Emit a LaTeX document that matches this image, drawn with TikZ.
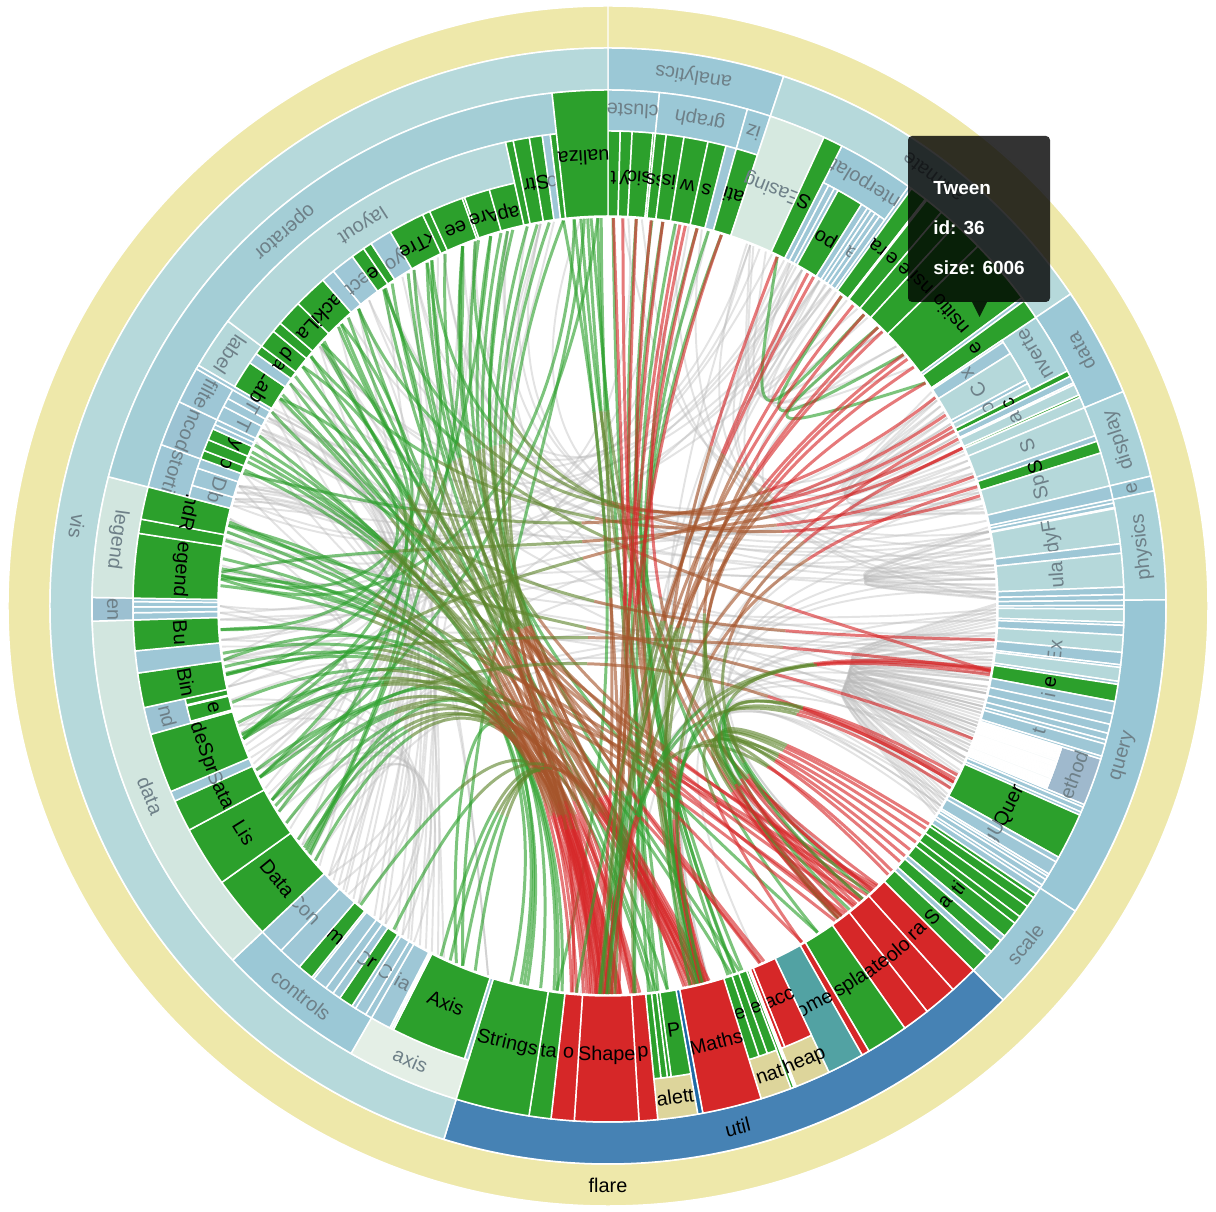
\documentclass[tikz,border=0pt]{standalone}
\usepackage{fontspec}
\setmainfont{Liberation Sans}
\usetikzlibrary{calc}
\definecolor{cflare}{HTML}{EEE8AA}
\definecolor{cpkg}{HTML}{9BC8D6}
\definecolor{cpkgb}{HTML}{A9D2D9}
\definecolor{cpkgt}{HTML}{B6D9DB}
\definecolor{cquery}{HTML}{98C6D5}
\definecolor{cmethods}{HTML}{9FB9CD}
\definecolor{cutil}{HTML}{4682B4}
\definecolor{cbeige}{HTML}{DDD59B}
\definecolor{cpale}{HTML}{D2E6DF}
\definecolor{caxis}{HTML}{E4EFE6}
\definecolor{cevents}{HTML}{9CC0D1}
\definecolor{coperator}{HTML}{A4CED6}
\definecolor{csub}{HTML}{9CC3D3}
\definecolor{leafg}{HTML}{2CA02C}
\definecolor{leafr}{HTML}{D62728}
\definecolor{leafb}{HTML}{9EC7D6}
\definecolor{leaft}{HTML}{B5D8DA}
\definecolor{leafp}{HTML}{D6E9E0}
\definecolor{leafw}{HTML}{F3F8F8}
\definecolor{leafc}{HTML}{52A2A3}
\definecolor{leafd}{HTML}{1F6AA5}
\definecolor{txg}{HTML}{000000}
\definecolor{txr}{HTML}{000000}
\definecolor{txc}{HTML}{000000}
\definecolor{txd}{HTML}{000000}
\definecolor{txb}{HTML}{6E8088}
\definecolor{txt}{HTML}{6E8088}
\definecolor{txp}{HTML}{6E8088}
\definecolor{txw}{HTML}{6E8088}
\definecolor{eG}{HTML}{2CA02C}
\definecolor{eO}{HTML}{5E852B}
\definecolor{eB}{HTML}{A5542A}
\definecolor{eR}{HTML}{D62728}
\definecolor{egray}{HTML}{B8B8B8}

\begin{document}
\begin{tikzpicture}[x=0.02cm, y=0.02cm,
    seg/.style={draw=white, line width=0.85pt},
    sector/.style n args={4}{insert path={({90-#1}:#3) arc[start angle={90-#1}, end angle={90-#2}, radius=#3] -- ({90-#2}:#4) arc[start angle={90-#2}, end angle={90-#1}, radius=#4] -- cycle}},
    ringlabel/.style={font=\fontsize{11.3}{13}\selectfont, text=txb, inner sep=0pt},
    darklabel/.style={font=\fontsize{11.3}{13}\selectfont, text=black, inner sep=0pt},
    leaflabel/.style={font=\fontsize{11.3}{13}\selectfont, inner sep=0pt},
    faint/.style={draw=egray, line width=1.1pt, opacity=.4},
    bundle/.style={line width=1.7pt, opacity=.62},
    tipbox/.style={fill=black, opacity=.8},
    tiptext/.style={font=\bfseries\fontsize{10.8}{12}\selectfont, text=white, anchor=west, inner sep=0pt}]
\useasboundingbox (-608,-606) rectangle (608,606);

\foreach \ha/\ra/\hb/\rb/\pairs in {
  106/205/106/205/{90/96, 91/99, 92.5/103, 94/100, 95.5/105.5, 97/102, 98/112, 100/108, 101/114, 103/110, 104/116, 105/118, 106.5/120, 108/113, 109/117, 110/119, 111/121, 112/122, 114/120.5, 96/110.5, 93/109, 102/111.5, 107/115, 89.7/101, 91.5/106, 90.5/104, 92/98.5, 95/113.5, 97.5/107.5, 99/115.5, 100.5/119.5, 104.5/121.5, 105.5/109.5, 108.5/122.5, 113/117.5, 102.5/106},
  84/215/84/215/{78.3/84.5, 78.8/86, 79/87.5, 81/88.3, 82/85, 83/89, 80/86.8, 84/88.8},
  66/220/66/220/{56.5/62, 57.5/64, 59/66.5, 61/65, 68/74, 69/76, 70.5/75.5, 72/76.2, 58/70, 60/73},
  106/100/166/100/{91/166, 95/180, 103/137, 108/143, 112/165, 120/181, 122/139, 94/176, 105/184, 121/157},
  106/100/272/130/{92/250, 96/290, 101/312, 105/275, 109/330, 113/240, 121/302, 98/229, 118/262, 103/345, 90.5/280, 94.5/322, 111/268, 119.5/338, 97/236, 107.5/256},
  75/100/300/160/{80/312, 82/230, 85/345, 87/251, 70/275, 73/318, 75/356, 77.3/340, 58/258, 61/305, 64/235, 66/330, 79/322, 84/290, 88/262, 68/350, 86/300, 81.5/335, 71/285, 62/348},
  75/100/166/100/{79/137, 83/166, 86/180, 69/143, 72.5/165, 59/181, 65/167, 88/139},
  70/150/25/150/{81/21, 84/27, 88/33, 60/30, 63/45, 74/10, 86/5, 79/48, 89/14, 67/2},
  31/100/166/100/{21.5/166, 27.7/180, 28.5/143, 29/166.5, 33.1/181, 34.2/179, 35/137},
  31/100/300/160/{21.5/312, 28/335, 33/300, 35.2/250, 23/325, 30/288},
  37/220/37/220/{21.5/33, 22/45, 24/50, 28/38, 30/42, 34/48, 36/52},
  305/200/240/200/{211/330, 213/345, 215/300, 221/320, 224/290, 226/338, 198/316, 207/305, 209/352, 286/232, 288/245, 297/226, 299/212, 287/255, 300.5/205, 220/310, 217/298, 208/325, 225/350, 198/288, 210.5/340, 216/312, 223/302, 285.5/220, 296/240, 298.5/251, 206/295, 222.5/334},
  300/170/262/170/{286/262, 288/270, 297/248, 299/276, 287/281, 296.5/258, 305/268, 320/244, 328/279, 340/265, 350/241, 312/283},
  260/230/260/230/{228/246, 232/252, 238/258, 242/262, 245/265, 249/264, 269/280, 270/283},
  270/120/20/120/{269/15, 286/30, 297/8, 288/40, 299/25, 285/3, 265/12, 247/35},
  218/220/247/220/{210/240, 212/233, 215/238, 222/231, 224/252, 226/245, 216/262, 220/256}}{
  \foreach \a/\b in \pairs {
    \coordinate (ga) at ({90-\a}:388);
    \coordinate (gb) at ({90-\b}:388);
    \draw[faint] (ga) .. controls ({90-\ha}:\ra) and ({90-\hb}:\rb) .. (gb);
  }
}

\foreach \ha/\ra/\hb/\rb/\pairs in {
  312/190/262/190/{312.5/230.5, 316.6/250.7, 332.2/243.8, 338/230.2, 342.4/259.8, 308.1/238, 324.7/274.5, 302.3/266.5},
  250/160/350/200/{202/356.5, 243.8/358.5, 274/355},
  280/170/200/110/{274/193, 250/188, 313/192.5, 329/171.2, 338/147.3, 282/194.5, 231/187.5, 296/192, 203/190, 320/172.8, 345/160.2, 305/161.5, 240/173.5, 262/186.8},
  5/100/168/100/{0.74/171.2, 4.18/160.9, 8.13/172.6, 13.28/162, 17/173.2, 357.5/174, 353.4/187.6, 6.5/147.3, 10/159.8, 15/161},
  40/220/40/220/{44.1/54.9, 49.6/37, 41.3/25.85}}{
  \foreach \a/\b in \pairs {
    \coordinate (ga) at ({90-\a}:388);
    \coordinate (gb) at ({90-\b}:388);
    \draw[bundle, draw=eG] (ga) .. controls ({90-\ha}:\ra) and ({90-\hb}:\rb) .. (gb);
  }
}

\foreach \ha/\ra/\hb/\rb/\ka/\kb/\kc/\kd/\pairs in {
  286/180/202/112/eG/eO/eB/eR/{308.1/180.5, 312.5/178.2, 316.6/166.3, 324.7/182.7, 326.2/176.1, 332.2/164.9, 335.2/179.4, 338/167.6, 342.4/181.6, 345.8/165.4, 310.1/142.9, 316/139.3, 333/136.6, 340.5/157, 344/184.6, 302.3/181.1, 306.3/166.7, 290.5/180.8, 291.8/167.8, 293.4/178.6, 294.5/185.4, 348/179.8, 349.5/166.1, 351.3/182.1, 353.4/175.8, 303/136.2, 292.6/140.5, 318/150, 330/156.3},
  268/160/202/112/eG/eO/eB/eR/{273/179.2, 275.5/166, 277/181.4, 279.7/176.6, 282.5/183.1, 274.5/137.4, 281/142.4, 229/180.1, 231.5/167, 233/178.1, 236/165.6, 239/181.7, 243.8/168.3, 250/179.9, 252.5/183.6, 255.6/166.9, 259.8/180.6, 261/175.3, 266.5/178.7, 240/138.1, 250.5/144.2, 263/156.8},
  228/130/195/105/eG/eO/eB/eR/{202/181, 204/167.4, 205.5/176.3, 219.6/182.5, 213.5/168.7, 200/185.2},
  298/175/75/100/eG/eO/eB/eR/{310/70.5, 325/62.5, 340/73.5, 275/66, 250/60.5, 320/99.7, 290/57.5, 333/64.5},
  265/150/106/100/eG/eO/eB/eR/{260/99.5, 245/117, 300/95, 282/110},
  357/120/168/100/eG/eO/eB/eR/{355/178.4, 357/165.2, 358.5/139, 356/143.7, 359/181.9},
  9/100/168/100/eR/eR/eB/eO/{2.2/166.4, 4.18/180.9, 6.39/165.7, 8.13/179, 10.69/181.3, 13.28/167.2, 17/180, 11.5/143.1, 0.8/176.2},
  40/100/168/100/eR/eB/eO/eG/{25.85/165.9, 31/180.3, 37/166.5, 39.2/179.6, 41.3/137.8, 44.1/167.8, 49.6/181.2, 50.5/141.5, 54.9/166.8, 52/143.6, 45/176, 32/184.7},
  129/110/166/100/eR/eO/eO/eR/{124.2/137, 126.3/140.2, 128.9/143.5, 131.2/136, 133.8/139.5, 125/142, 130.1/150.1, 127.5/166.2, 133/180.5},
  106/100/166/100/eR/eO/eG/eR/{99.7/166.2, 99.3/180.4, 116.5/137.2, 117/165.6, 115.8/143, 118/179.5, 100.2/140.8},
  68/100/166/100/eR/eB/eO/eG/{72.1/166, 63.2/180.2, 66/139}}{
  \foreach \a/\b in \pairs {
    \coordinate (e0) at ({90-\a}:388);
    \coordinate (e1) at ({90-\ha}:\ra);
    \coordinate (e2) at ({90-\hb}:\rb);
    \coordinate (e3) at ({90-\b}:388);
    \coordinate (f0) at ($(e0)!.5!(e1)$);
    \coordinate (f1) at ($(e1)!.5!(e2)$);
    \coordinate (f2) at ($(e2)!.5!(e3)$);
    \coordinate (g0) at ($(f0)!.5!(f1)$);
    \coordinate (g1) at ($(f1)!.5!(f2)$);
    \coordinate (em) at ($(g0)!.5!(g1)$);
    \coordinate (h0) at ($(e0)!.5!(f0)$);
    \coordinate (h1) at ($(f0)!.5!(g0)$);
    \coordinate (h2) at ($(g0)!.5!(em)$);
    \coordinate (i0) at ($(h0)!.5!(h1)$);
    \coordinate (i1) at ($(h1)!.5!(h2)$);
    \coordinate (ea) at ($(i0)!.5!(i1)$);
    \coordinate (j0) at ($(em)!.5!(g1)$);
    \coordinate (j1) at ($(g1)!.5!(f2)$);
    \coordinate (j2) at ($(f2)!.5!(e3)$);
    \coordinate (k0) at ($(j0)!.5!(j1)$);
    \coordinate (k1) at ($(j1)!.5!(j2)$);
    \coordinate (eb) at ($(k0)!.5!(k1)$);
    \draw[bundle, draw=\ka] (e0) .. controls (h0) and (i0) .. (ea);
    \draw[bundle, draw=\kb] (ea) .. controls (i1) and (h2) .. (em);
    \draw[bundle, draw=\kc] (em) .. controls (j0) and (k0) .. (eb);
    \draw[bundle, draw=\kd] (eb) .. controls (k1) and (j2) .. (e3);
  }
}

\path[seg, fill=cflare, sector={0}{360}{558}{600}];
\path[seg, fill=cpkg, sector={0}{18.343}{516}{558}];
\path[seg, fill=cpkgt, sector={18.343}{56.004}{516}{558}];
\path[seg, fill=cpkg, sector={56.004}{67.406}{516}{558}];
\path[seg, fill=cpkgb, sector={67.406}{76.538}{516}{558}];
\path[seg, fill=cpkg, sector={76.538}{78.088}{516}{558}];
\path[seg, fill=cpkgb, sector={78.088}{89.358}{516}{558}];
\path[seg, fill=cquery, sector={89.358}{123.140}{516}{558}];
\path[seg, fill=cpkg, sector={123.140}{134.923}{516}{558}];
\path[seg, fill=cutil, sector={134.923}{197.107}{516}{558}];
\path[seg, fill=cpkgt, sector={197.107}{360}{516}{558}];

\path[seg, fill=cpkg, sector={0}{5.726}{475}{516}];
\path[seg, fill=cpkg, sector={5.726}{15.679}{475}{516}];
\path[seg, fill=cpkg, sector={15.679}{18.343}{475}{516}];
\path[seg, fill=cpkg, sector={26.947}{35.637}{475}{516}];
\path[seg, fill=cpkgb, sector={56.004}{62.912}{475}{516}];
\path[seg, fill=cmethods, sector={107.249}{112.643}{475}{516}];
\path[seg, fill=cbeige, sector={154.632}{158.618}{475}{516}];
\path[seg, fill=cbeige, sector={159.218}{162.737}{475}{516}];
\path[seg, fill=cbeige, sector={169.962}{174.460}{475}{516}];
\path[seg, fill=caxis, sector={197.107}{209.866}{475}{516}];
\path[seg, fill=cpkg, sector={209.866}{226.673}{475}{516}];
\path[seg, fill=cpale, sector={226.673}{268.310}{475}{516}];
\path[seg, fill=cevents, sector={268.310}{270.950}{475}{516}];
\path[seg, fill=cpale, sector={270.950}{284.506}{475}{516}];
\path[seg, fill=coperator, sector={284.506}{353.773}{475}{516}];

\path[seg, fill=csub, sector={254.296}{257.635}{433}{475}];
\path[seg, fill=leafb, sector={284.506}{289.859}{433}{475}];
\path[seg, fill=csub, sector={289.859}{295.468}{433}{475}];
\path[seg, fill=leafb, sector={295.468}{299.946}{433}{475}];
\path[seg, fill=leaft, sector={300.430}{306.853}{433}{475}];
\path[seg, fill=leaft, sector={306.853}{347.548}{433}{475}];

\gdef\leafang{0}
\foreach \sz/\ro/\lc/\lt [count=\i] in {
  3938/475/g/t, 3812/475/g/y, 6714/475/g/sic, 743/475/g/{}, 3534/475/g/ss, 5731/475/g/is, 7840/475/g/w, 5914/475/g/s, 3416/475/b/{}, 7074/475/g/ati,
  17010/516/p/Easing, 5842/516/g/S, 1983/475/b/{}, 2047/475/b/{}, 1375/475/b/{}, 8746/475/g/po, 2202/475/b/{}, 1382/475/b/{}, 1629/475/b/{}, 1675/475/b/a, 2042/475/b/{}, 1041/516/b/{}, 5176/516/g/ra, 449/516/b/{}, 5593/516/g/e, 5534/516/g/e, 9201/516/g/nsi, 19975/516/g/nsitio, 1116/516/b/{}, 6006/516/g/e,
  721/475/b/{}, 4294/475/b/x, 9800/475/t/C, 1314/475/b/{}, 2220/475/t/o, 1759/516/g/c, 2165/516/b/{}, 586/516/b/{}, 3331/516/t/a, 772/516/g/{}, 3322/516/t/{},
  8833/516/t/S, 1732/516/b/{}, 3623/516/g/S, 10066/516/t/Sp,
  4116/516/b/{},
  1082/516/b/{}, 1336/516/b/{}, 319/516/b/{}, 10498/516/t/dyF, 2822/516/b/{}, 9983/516/t/ula, 2213/516/b/{}, 1681/516/b/{},
  1616/516/b/{}, 1027/516/b/{}, 3891/516/t/{}, 891/516/b/{}, 2893/516/b/{}, 5103/516/t/{}, 3677/516/b/Ex, 781/516/b/{}, 4141/516/t/{}, 933/516/b/{}, 5130/516/g/e, 3617/516/b/i, 3240/516/b/{}, 2732/516/b/{}, 2039/516/b/{}, 1214/516/b/{}, 3748/516/b/t, 843/516/b/{},
  593/475/w/{}, 330/475/w/{}, 287/475/w/{}, 277/475/w/{}, 292/475/w/{}, 595/475/w/{}, 594/475/w/{}, 460/475/w/{}, 603/475/w/{}, 625/475/w/{}, 748/475/w/{}, 461/475/w/{}, 597/475/w/{}, 619/475/w/{}, 283/475/w/{}, 283/475/w/{}, 591/475/w/{}, 603/475/w/{}, 599/475/w/{}, 386/475/w/{}, 323/475/w/{}, 307/475/w/{}, 772/475/w/{}, 296/475/w/{}, 363/475/w/{}, 600/475/w/{}, 280/475/w/{}, 307/475/w/{}, 335/475/w/{}, 299/475/w/{}, 354/475/w/{}, 264/475/w/{},
  843/516/b/{}, 1554/516/b/{}, 970/516/b/{}, 13896/516/g/Quer, 1594/516/b/{}, 4130/516/b/gU, 791/516/b/{}, 1124/516/b/{}, 1876/516/b/{}, 1101/516/b/{},
  2105/516/b/{}, 1316/516/g/{}, 3151/516/g/{}, 3770/516/g/{}, 2435/516/g/{}, 4839/516/g/ti, 1756/516/b/{}, 4268/516/g/a, 1821/516/b/{}, 5833/516/g/S,
  8258/516/r/ra, 10001/516/r/olo, 8217/516/r/ate, 12555/516/g/spla, 2324/516/r/{}, 10993/516/c/ome, 9354/475/r/acc, 1233/475/r/{}, 335/516/r/{}, 383/516/r/{}, 874/516/g/{}, 3165/475/g/e, 2815/475/g/{}, 3366/475/g/e, 17705/516/r/Maths, 1486/516/d/{}, 6367/475/g/P, 1229/475/g/{}, 2059/475/g/{}, 2291/475/g/{}, 5559/516/r/p, 19118/516/r/Shape, 6887/516/r/o, 6557/516/g/ta, 22026/516/g/Strings,
  1302/475/b/{}, 24593/475/g/Axis, 652/475/b/{}, 636/475/b/{}, 6703/475/b/ia,
  2138/475/b/{}, 3824/475/b/C, 1353/475/b/{}, 4665/475/g/r, 2649/475/b/C, 2832/475/b/{}, 4896/475/b/{}, 763/475/b/{}, 5222/475/g/m, 7862/475/b/{}, 8435/475/b/Con,
  20544/475/g/Data, 19788/475/g/Lis, 10349/475/g/ata, 3301/475/b/S, 19382/475/g/deSpr, 698/433/b/{}, 5569/433/g/e, 353/433/b/{}, 2247/433/g/{}, 11275/475/g/Bin, 7147/475/b/{}, 9930/475/g/Bu,
  2313/475/b/{}, 1880/475/b/{}, 1701/475/b/{}, 1117/475/b/{},
  20859/475/g/egend, 4614/475/g/{}, 10530/475/g/ndR,
  4461/433/b/b, 6314/433/b/D, 3444/433/b/{},
  3179/433/g/o, 4060/433/g/{}, 4138/433/g/y, 1690/433/b/{}, 1830/433/b/{},
  5219/433/b/T, 3165/433/b/{}, 3509/433/b/T,
  1286/475/b/{},
  9956/433/g/Lab, 3899/433/b/{}, 3202/433/g/a,
  6725/433/g/d, 3727/433/g/{}, 9317/433/g/La, 12003/433/g/acki, 4853/433/b/{}, 8411/433/b/ect, 4864/433/g/e, 3174/433/g/{}, 7881/433/b/yo, 12870/433/g/kTre, 2728/433/g/{}, 12348/433/g/ee, 870/433/g/{}, 9121/433/g/Are, 9191/433/g/ap,
  2490/475/g/{}, 5248/475/g/tr, 4190/475/g/S, 2581/475/b/o, 2023/475/g/{},
  16540/516/g/ualiza}{
  \edef\la{\leafang}
  \xdef\leafang{\fpeval{round(\leafang+\sz*360/956129,4)}}
  \path[seg, fill=leaf\lc, sector={\la}{\leafang}{390}{\ro}];
  \node[leaflabel, text=tx\lc, rotate={180-(\la+\leafang)/2}] (leaf\i) at ({90-(\la+\leafang)/2}:{(390+\ro)/2-4}) {\lt};
}

\node[darklabel, rotate=0] (lab-flare) at (-90:579) {flare};
\node[ringlabel, rotate=170.83] (lab-analytics) at ({90-9.17}:537) {analytics};
\node[ringlabel, rotate=142.83] (lab-animate) at ({90-37.17}:537) {animate};
\node[ringlabel, rotate=118.29] (lab-data) at ({90-61.71}:537) {data};
\node[ringlabel, rotate=108.03] (lab-display) at ({90-71.97}:537) {display};
\node[ringlabel, rotate=102.69] (lab-flex) at ({90-77.31}:537) {e};
\node[ringlabel, rotate=96.28] (lab-physics) at ({90-83.72}:537) {physics};
\node[ringlabel, rotate=73.75] (lab-query) at ({90-106.25}:537) {query};
\node[ringlabel, rotate=50.97] (lab-scale) at ({90-129.03}:537) {scale};
\node[darklabel, rotate=13.98] (lab-util) at ({90-166.02}:537) {util};
\node[ringlabel, rotate=-98.55] (lab-vis) at ({90-278.55}:537) {vis};

\node[ringlabel, rotate=177.14] (lab-cluster) at ({90-2.86}:495.5) {cluste};
\node[ringlabel, rotate=169.30] (lab-graph) at ({90-10.70}:495.5) {graph};
\node[ringlabel, rotate=162.99] (lab-optim) at ({90-17.01}:495.5) {iz};
\node[ringlabel, rotate=148.71] (lab-interp) at ({90-31.29}:495.5) {nterpolat};
\node[ringlabel, rotate=120.54] (lab-conv) at ({90-59.46}:495.5) {nverte};
\node[ringlabel, rotate=70.05] (lab-methods) at ({90-109.95}:495.5) {ethod};
\node[darklabel, rotate=23.37] (lab-heap) at ({90-156.63}:495.5) {heap};
\node[darklabel, rotate=19.02] (lab-math) at ({90-160.98}:495.5) {nat};
\node[darklabel, rotate=7.79] (lab-palette) at ({90-172.21}:495.5) {alett};
\node[ringlabel, rotate=-23.49] (lab-axis) at ({90-203.49}:495.5) {axis};
\node[ringlabel, rotate=-38.27] (lab-controls) at ({90-218.27}:495.5) {controls};
\node[ringlabel, rotate=-67.49] (lab-visdata) at ({90-247.49}:495.5) {data};
\node[ringlabel, rotate=-89.63] (lab-events) at ({90-269.63}:495.5) {en};
\node[ringlabel, rotate=-97.73] (lab-legend) at ({90-277.73}:495.5) {legend};
\node[ringlabel, rotate=-139.14] (lab-operator) at ({90-319.14}:495.5) {operator};

\node[ringlabel, rotate=-75.97] (lab-render) at ({90-255.97}:454) {nd};
\node[ringlabel, rotate=-107.18] (lab-distortion) at ({90-287.18}:454) {storti};
\node[ringlabel, rotate=-112.66] (lab-encoder) at ({90-292.66}:454) {ncod};
\node[ringlabel, rotate=-117.71] (lab-filter) at ({90-297.71}:454) {filte};
\node[ringlabel, rotate=-123.64] (lab-label) at ({90-303.64}:454) {label};
\node[ringlabel, rotate=-147.20] (lab-layout) at ({90-327.20}:454) {layout};

\fill[tipbox, rounded corners=2.3pt] (300,304) rectangle (442,470);
\fill[tipbox] (364,304) -- (379,304) -- (371.5,289) -- cycle;
\node[tiptext] (tip-name) at (325,418) {Tween};
\node[tiptext] (tip-id) at (325,378) {id: 36};
\node[tiptext] (tip-size) at (325,338) {size: 6006};
\end{tikzpicture}
\end{document}
